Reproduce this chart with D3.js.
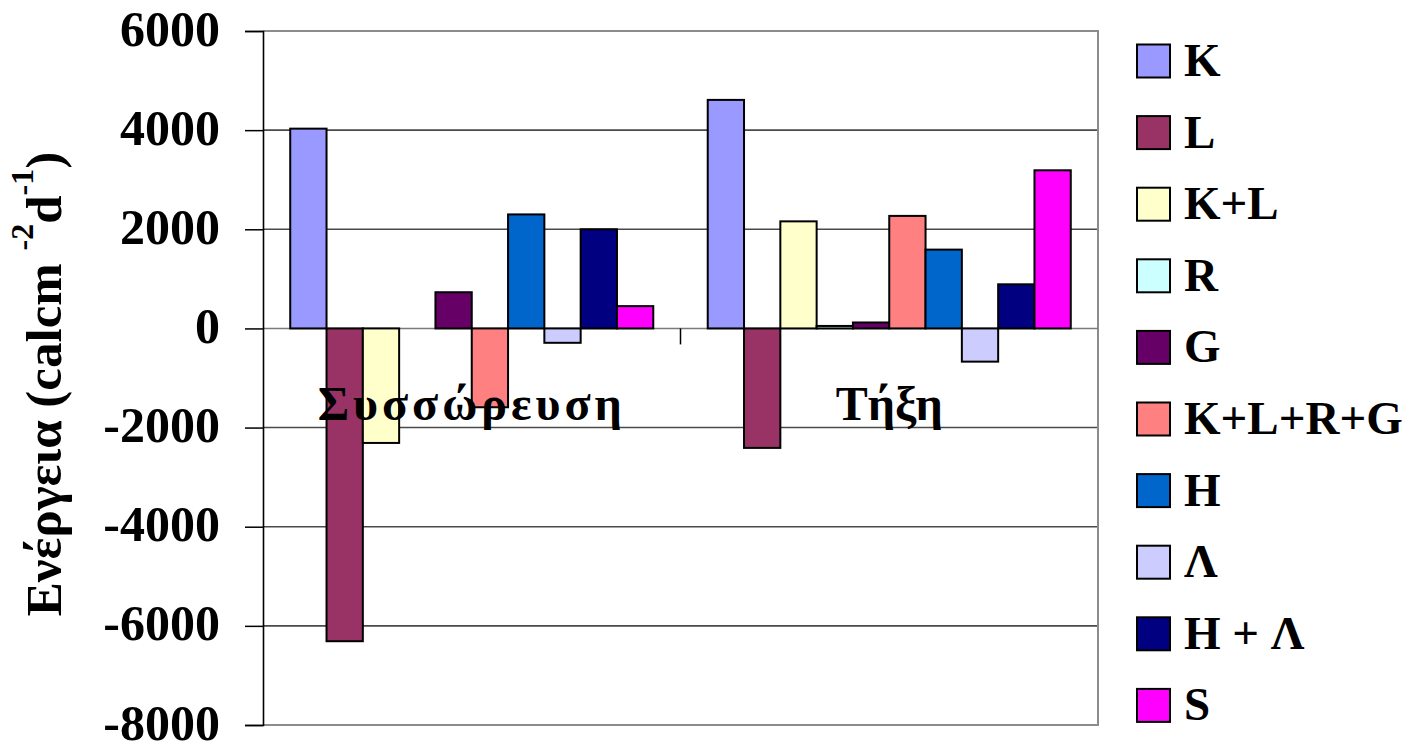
<!DOCTYPE html>
<html>
<head>
<meta charset="utf-8">
<script src="https://cdn.jsdelivr.net/npm/d3@7"></script>
<style>
  html, body { margin: 0; padding: 0; background: #fff; }
  svg { display: block; }
</style>
</head>
<body>
<svg id="chart" width="1410" height="745"></svg>
<script>
// Energy balance components (cal cm^-2 d^-1) for accumulation and melt periods
const categories = ["Συσσώρευση", "Τήξη"];
const seriesNames = ["K", "L", "K+L", "R", "G", "K+L+R+G", "H", "Λ", "H + Λ", "S"];
const seriesColors = ["#9999FF", "#993366", "#FFFFCC", "#CCFFFF", "#660066",
                      "#FF8080", "#0066CC", "#CCCCFF", "#000080", "#FF00FF"];
const accumulationValues = [4030, -6310, -2310, 0, 730, -1590, 2300, -290, 2000, 450];
const meltValues = [4610, -2410, 2160, 50, 120, 2270, 1590, -670, 890, 3190];
const yTicks = [6000, 4000, 2000, 0, -2000, -4000, -6000, -8000];

const seriesValues = [accumulationValues, meltValues];
const FONT = '"Liberation Serif", "Times New Roman", serif';

const svg = d3.select("#chart");
const plot = { left: 263, right: 1098, top: 31, bottom: 725 };

const y = d3.scaleLinear().domain([-8000, 6000]).range([plot.bottom, plot.top]);
const x0 = d3.scaleBand().domain(categories).range([plot.left, plot.right]).padding(0);
const x1 = d3.scaleBand().domain(seriesNames).range([0, x0.bandwidth()])
  .paddingInner(0).paddingOuter(0.75);

// Horizontal gridlines
svg.append("g").selectAll("line")
  .data(yTicks.filter(t => t !== 6000 && t !== -8000 && t !== 0))
  .join("line")
  .attr("x1", plot.left).attr("x2", plot.right)
  .attr("y1", d => y(d)).attr("y2", d => y(d))
  .attr("stroke", "#4a4a4a").attr("stroke-width", 1.6);

// Plot area border (top, right, bottom)
svg.append("path")
  .attr("d", `M${plot.left},${plot.top}H${plot.right}V${plot.bottom}H${plot.left}`)
  .attr("fill", "none").attr("stroke", "#8c8c8c").attr("stroke-width", 2);

// Category axis at zero
const zeroY = y(0);
svg.append("line")
  .attr("x1", plot.left).attr("x2", plot.right)
  .attr("y1", zeroY).attr("y2", zeroY)
  .attr("stroke", "#7a7a7a").attr("stroke-width", 1.6);
const catBounds = [plot.left, ...categories.map(c => x0(c) + x0.bandwidth())];
svg.append("g").selectAll("line")
  .data(catBounds.slice(1, -1))
  .join("line")
  .attr("x1", d => d).attr("x2", d => d)
  .attr("y1", zeroY).attr("y2", zeroY + 16)
  .attr("stroke", "#000").attr("stroke-width", 1.5);

// Value axis (plain hyphen for negative numbers)
const yAxis = d3.axisLeft(y).tickValues(yTicks).tickSize(18).tickPadding(25)
  .tickFormat(d => String(d));
const yAxisG = svg.append("g").attr("transform", `translate(${plot.left},0)`).call(yAxis);
yAxisG.select(".domain").attr("stroke", "#000").attr("stroke-width", 1.6);
yAxisG.selectAll(".tick line").attr("stroke", "#000").attr("stroke-width", 1.5);
yAxisG.selectAll(".tick text")
  .style("font-family", FONT).style("font-weight", "bold").style("font-size", "50px")
  .attr("fill", "#000")
  .attr("dy", "0.28em");

// Bars
const groups = svg.append("g").selectAll("g")
  .data(categories.map((c, i) => ({ c, vals: seriesValues[i] })))
  .join("g")
  .attr("transform", d => `translate(${x0(d.c)},0)`);

groups.selectAll("rect")
  .data(d => d.vals.map((v, j) => ({ name: seriesNames[j], v, color: seriesColors[j] })))
  .join("rect")
  .attr("x", d => x1(d.name))
  .attr("width", x1.bandwidth())
  .attr("y", d => Math.min(y(d.v), y(0)))
  .attr("height", d => Math.abs(y(d.v) - y(0)))
  .attr("fill", d => d.color)
  .attr("stroke", "#000").attr("stroke-width", 2);

// Category labels
svg.append("g").selectAll("text")
  .data(categories)
  .join("text")
  .attr("x", d => x0(d) + x0.bandwidth() / 2)
  .attr("y", 420)
  .attr("text-anchor", "middle")
  .style("font-family", FONT).style("font-weight", "bold").style("font-size", "48px")
  .style("letter-spacing", (d, i) => i === 0 ? "4px" : "0px")
  .attr("fill", "#000")
  .text(d => d);

// Y axis title with superscripts
const title = svg.append("text")
  .attr("transform", "translate(61,384) rotate(-90)")
  .attr("text-anchor", "middle")
  .style("font-family", FONT).style("font-weight", "bold").style("font-size", "51px")
  .attr("fill", "#000");
title.append("tspan").text("Ενέργεια (calcm   ");
title.append("tspan").style("font-size", "32px").attr("dy", -28).text("-2");
title.append("tspan").attr("dy", 28).text("d");
title.append("tspan").style("font-size", "32px").attr("dy", -28).text("-1");
title.append("tspan").attr("dy", 28).text(")");

// Legend
const legend = svg.append("g").selectAll("g")
  .data(seriesNames.map((n, i) => ({ n, color: seriesColors[i], i })))
  .join("g")
  .attr("transform", d => `translate(1137,${61 + d.i * 71.6})`);
legend.append("rect")
  .attr("x", 0).attr("y", -16.5).attr("width", 33).attr("height", 33)
  .attr("fill", d => d.color).attr("stroke", "#000").attr("stroke-width", 2);
legend.append("text")
  .attr("x", 47).attr("y", 15)
  .style("font-family", FONT).style("font-weight", "bold").style("font-size", "47px")
  .attr("fill", "#000")
  .text(d => d.n);
</script>
</body>
</html>
